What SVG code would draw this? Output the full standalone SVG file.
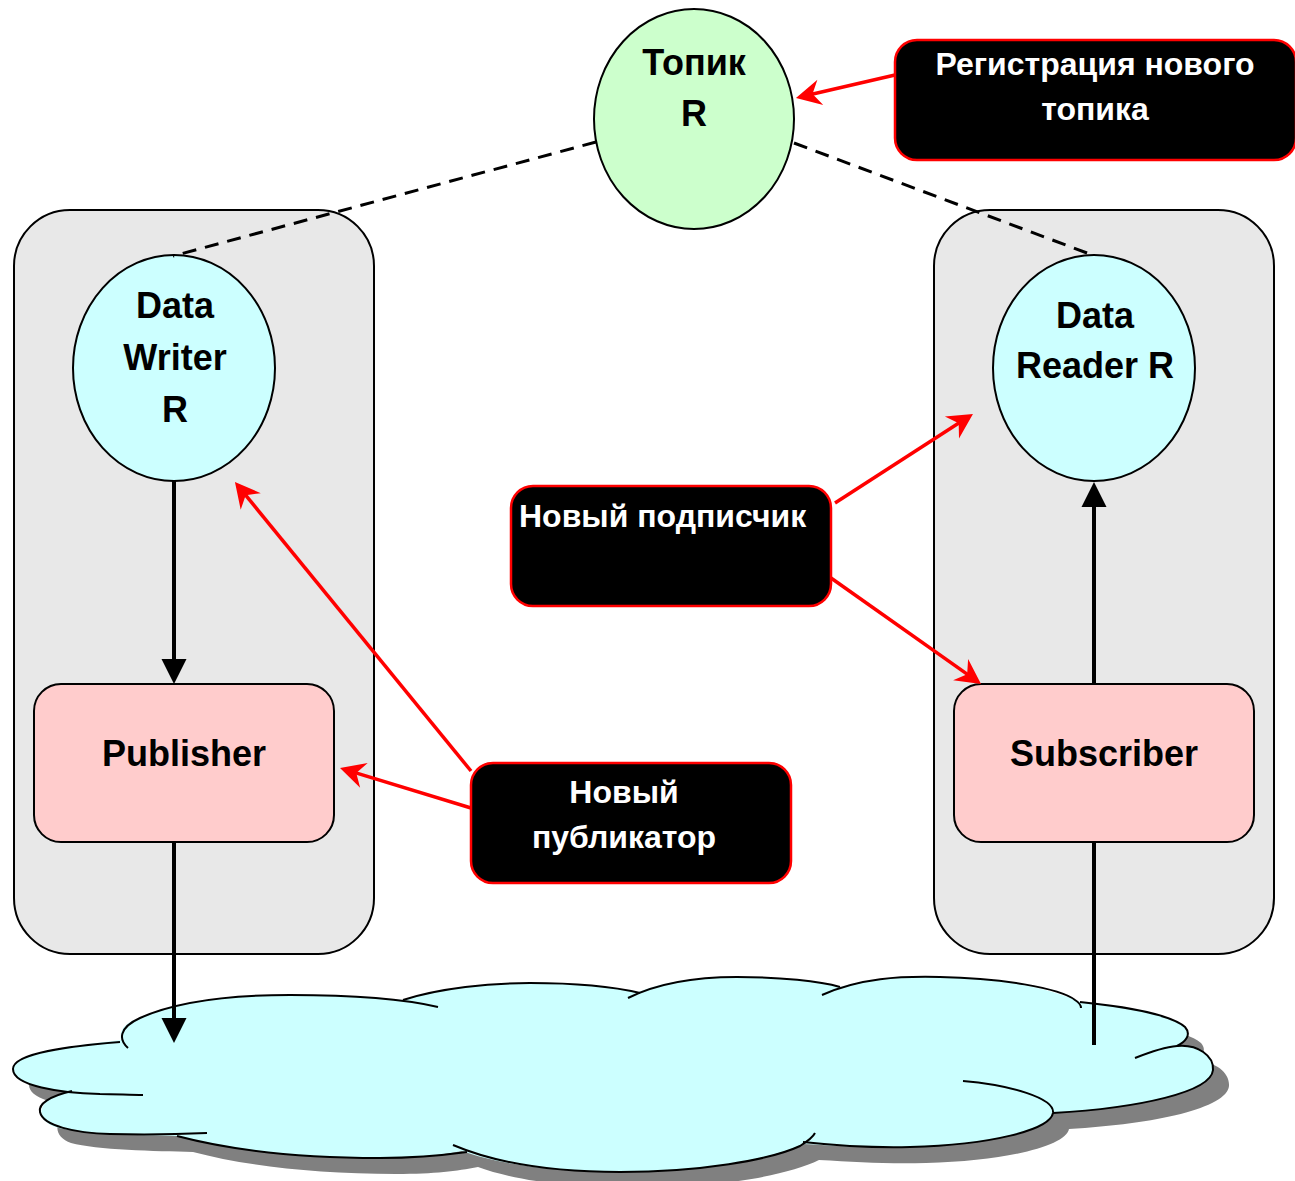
<svg xmlns="http://www.w3.org/2000/svg" width="1295" height="1181" viewBox="0 0 1295 1181">
  <defs>
    <style>
      .container { fill: #e8e8e8; stroke: #000; stroke-width: 2; }
      .topic { fill: #ccffcc; stroke: #000; stroke-width: 2; }
      .entity { fill: #ccffff; stroke: #000; stroke-width: 2; }
      .role { fill: #ffcccc; stroke: #000; stroke-width: 2; }
      .callout { fill: #000; stroke: #ff0000; stroke-width: 2.5; }
      .cloud-fill { fill: #ccffff; stroke: none; }
      .cloud-shadow { fill: #808080; stroke: none; }
      .cloud-line { fill: none; stroke: #000; stroke-width: 2; }
      .label { font-family: "Liberation Sans", Arial, sans-serif; font-weight: bold; font-size: 36px; fill: #000; text-anchor: middle; }
      .note { font-family: "Liberation Sans", Arial, sans-serif; font-weight: bold; font-size: 32px; fill: #fff; text-anchor: middle; }
      .flow { fill: none; stroke: #000; stroke-width: 4; }
      .dash { fill: none; stroke: #000; stroke-width: 3; stroke-dasharray: 14 9; }
      .hint { fill: none; stroke: #ff0000; stroke-width: 3.5; }
    </style>
    <marker id="headBlack" viewBox="0 -13 26 26" refX="1" refY="0" markerWidth="26" markerHeight="26" markerUnits="userSpaceOnUse" orient="auto">
      <path d="M0,-12.5 L25,0 L0,12.5 Z" fill="#000"/>
    </marker>
    <marker id="headRed" viewBox="-9 -14 28 28" refX="3" refY="0" markerWidth="28" markerHeight="28" markerUnits="userSpaceOnUse" orient="auto">
      <path d="M17,0 L-8,-13 L0,0 L-8,13 Z" fill="#ff0000"/>
    </marker>
    <!-- outer contour of the network cloud -->
    <path id="cloudOutline" d="M121,1040
      C119,1030 125,1022 140,1018
      C180,1000 240,995 290,995
      C330,995 370,996 403,1000
      C440,988 490,983 530,983
      C575,983 610,986 638,992
      C665,981 700,977 737,977
      C780,977 815,981 840,987
      C870,978 905,977 940,977
      C1000,978 1050,988 1080,1002
      C1120,1006 1170,1014 1185,1027
      C1192,1035 1185,1042 1177,1046
      C1198,1044 1214,1056 1213,1070
      C1211,1092 1140,1108 1053,1113
      C1050,1130 990,1145 910,1147
      C870,1148 840,1146 803,1144
      C770,1160 700,1172 620,1172
      C560,1172 500,1165 462,1151
      C440,1155 420,1158 380,1158
      C300,1158 230,1150 177,1136
      C140,1135 80,1134 55,1127
      C40,1122 36,1108 50,1099
      C57,1095 64,1093 70,1092
      C40,1089 13,1082 13,1069
      C13,1053 70,1046 121,1040 Z"/>
  </defs>

  <!-- application containers -->
  <g id="writer-app">
    <rect class="container" x="14" y="210" width="360" height="744" rx="56" ry="56"/>
  </g>
  <g id="reader-app">
    <rect class="container" x="934" y="210" width="340" height="744" rx="56" ry="56"/>
  </g>

  <!-- network cloud -->
  <g id="network">
    <use href="#cloudOutline" class="cloud-shadow" transform="translate(16,16)"/>
    <use href="#cloudOutline" class="cloud-fill"/>
    <path class="cloud-line" d="M128,1048 C119,1040 118,1028 140,1018 C180,1000 240,995 290,995 C340,995 400,998 438,1007"/>
    <path class="cloud-line" d="M120,1042 C70,1046 13,1053 13,1069 C13,1086 60,1093 100,1094 C115,1094 130,1095 143,1095"/>
    <path class="cloud-line" d="M72,1091 C50,1096 38,1104 40,1112 C43,1126 75,1133 110,1134 C150,1135 185,1134 207,1133"/>
    <path class="cloud-line" d="M177,1136 C230,1150 300,1158 380,1158 C420,1158 445,1155 467,1152"/>
    <path class="cloud-line" d="M453,1145 C500,1165 560,1172 620,1172 C700,1172 770,1160 800,1146 C808,1141 813,1137 815,1133"/>
    <path class="cloud-line" d="M803,1142 C840,1146 870,1148 910,1147 C990,1145 1050,1130 1053,1113 C1055,1098 1010,1085 963,1081"/>
    <path class="cloud-line" d="M1135,1058 C1150,1052 1165,1047 1177,1046 C1198,1044 1214,1056 1213,1070 C1211,1092 1140,1108 1053,1113"/>
    <path class="cloud-line" d="M1080,1002 C1120,1006 1170,1014 1185,1027 C1192,1035 1185,1042 1177,1046"/>
    <path class="cloud-line" d="M822,995 C860,978 900,976 940,977 C1000,978 1060,988 1075,1000 C1080,1003 1081,1005 1081,1008"/>
    <path class="cloud-line" d="M628,998 C660,982 700,977 737,977 C780,977 820,981 840,987"/>
    <path class="cloud-line" d="M403,1000 C440,988 490,983 530,983 C575,983 615,987 640,993"/>
  </g>

  <!-- topic -->
  <g id="topic-r">
    <ellipse class="topic" cx="694" cy="119" rx="100" ry="110"/>
    <text class="label" x="694" y="75">Топик</text>
    <text class="label" x="694" y="126">R</text>
  </g>

  <g id="data-writer">
    <ellipse class="entity" cx="174" cy="368" rx="101" ry="113"/>
    <text class="label" x="175" y="318">Data</text>
    <text class="label" x="175" y="370">Writer</text>
    <text class="label" x="175" y="422">R</text>
  </g>

  <g id="data-reader">
    <ellipse class="entity" cx="1094" cy="368" rx="101" ry="113"/>
    <text class="label" x="1095" y="328">Data</text>
    <text class="label" x="1095" y="378">Reader R</text>
  </g>

  <g id="publisher">
    <rect class="role" x="34" y="684" width="300" height="158" rx="27" ry="27"/>
    <text class="label" x="184" y="766">Publisher</text>
  </g>

  <g id="subscriber">
    <rect class="role" x="954" y="684" width="300" height="158" rx="27" ry="27"/>
    <text class="label" x="1104" y="766">Subscriber</text>
  </g>

  <!-- callouts -->
  <g id="note-topic">
    <rect class="callout" x="895" y="40" width="401" height="120" rx="22" ry="22"/>
    <text class="note" x="1095" y="75">Регистрация нового</text>
    <text class="note" x="1095" y="120">топика</text>
  </g>

  <g id="note-subscriber">
    <rect class="callout" x="511" y="486" width="320" height="120" rx="22" ry="22"/>
    <text class="note" x="519" y="527" style="text-anchor:start">Новый подписчик</text>
  </g>

  <g id="note-publisher">
    <rect class="callout" x="471" y="763" width="320" height="120" rx="22" ry="22"/>
    <text class="note" x="624" y="803">Новый</text>
    <text class="note" x="624" y="848">публикатор</text>
  </g>

  <!-- connectors -->
  <g id="connectors">
    <line class="dash" x1="596" y1="142" x2="173" y2="256"/>
    <line class="dash" x1="794" y1="143" x2="1095" y2="256"/>

    <line class="flow" x1="174" y1="481" x2="174" y2="660" marker-end="url(#headBlack)"/>
    <line class="flow" x1="174" y1="842" x2="174" y2="1019" marker-end="url(#headBlack)"/>
    <line class="flow" x1="1094" y1="1045" x2="1094" y2="842"/>
    <line class="flow" x1="1094" y1="684" x2="1094" y2="506" marker-end="url(#headBlack)"/>

    <line class="hint" x1="895" y1="75" x2="809.6" y2="94.8" marker-end="url(#headRed)"/>
    <line class="hint" x1="471" y1="808" x2="353.4" y2="772.1" marker-end="url(#headRed)"/>
    <line class="hint" x1="471" y1="771" x2="243.8" y2="492.9" marker-end="url(#headRed)"/>
    <line class="hint" x1="835" y1="503" x2="961.2" y2="421.5" marker-end="url(#headRed)"/>
    <line class="hint" x1="831" y1="578" x2="969.6" y2="675.9" marker-end="url(#headRed)"/>
  </g>
</svg>
